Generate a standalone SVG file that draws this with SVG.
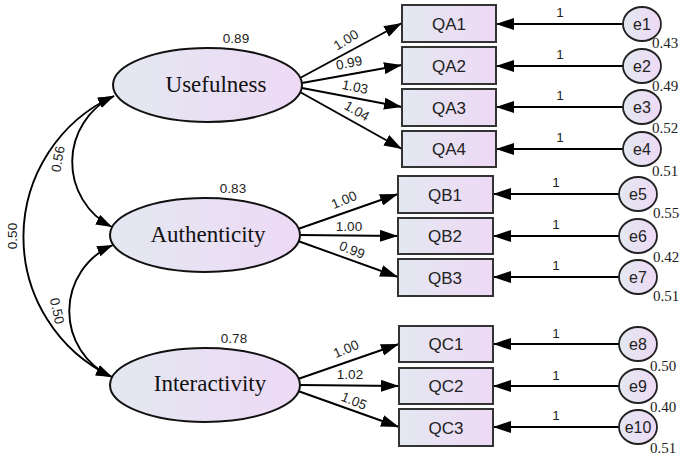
<svg xmlns="http://www.w3.org/2000/svg" width="685" height="458" viewBox="0 0 685 458">
<defs>
<linearGradient id="g" x1="0" y1="0" x2="1" y2="0">
<stop offset="0" stop-color="#e3e8f1"/>
<stop offset="1" stop-color="#eed9f5"/>
</linearGradient>
<marker id="ah" markerUnits="userSpaceOnUse" markerWidth="18" markerHeight="12" refX="18" refY="6" orient="auto-start-reverse" viewBox="0 0 18 12">
<path d="M0,0 L18,6 L0,12 z" fill="#000"/>
</marker>
<marker id="ac" markerUnits="userSpaceOnUse" markerWidth="16" markerHeight="11" refX="16" refY="5.5" orient="auto-start-reverse" viewBox="0 0 16 11">
<path d="M0,0 L16,5.5 L0,11 z" fill="#000"/>
</marker>
</defs>
<style>
.lat{fill:url(#g);stroke:#111;stroke-width:2}
.box{fill:url(#g);stroke:#333;stroke-width:2}
.err{fill:url(#g);stroke:#222;stroke-width:1.8}
.ln{stroke:#000;stroke-width:1.9;fill:none;marker-end:url(#ah)}
.cv{stroke:#000;stroke-width:1.9;fill:none;marker-start:url(#ac);marker-end:url(#ac)}
.lt{font-family:"Liberation Serif","Times New Roman",serif;font-size:23px;fill:#111;text-anchor:middle}
.bt{font-family:"Liberation Sans",Arial,sans-serif;font-size:17px;fill:#222;text-anchor:middle}
.et{font-family:"Liberation Sans",Arial,sans-serif;font-size:16px;fill:#222;text-anchor:middle}
.n{font-family:"Liberation Sans",Arial,sans-serif;font-size:13.5px;fill:#222;text-anchor:middle}
.v{font-family:"Liberation Serif","Times New Roman",serif;font-size:15px;fill:#222}
</style>
<g id="connectors">
<path class="ln" d="M300,78 L402,23"/>
<path class="ln" d="M302,83 L402,65"/>
<path class="ln" d="M302,88 L402,107"/>
<path class="ln" d="M300,92 L402,149"/>
<path class="ln" d="M298,229 L398,194"/>
<path class="ln" d="M300,235 L398,236"/>
<path class="ln" d="M298,241 L398,277"/>
<path class="ln" d="M298,379 L399,344"/>
<path class="ln" d="M300,385 L399,386"/>
<path class="ln" d="M298,391 L399,427"/>
<path class="ln" d="M623,24 L496,24"/>
<path class="ln" d="M623,66 L496,66"/>
<path class="ln" d="M623,107 L496,107"/>
<path class="ln" d="M623,149 L496,149"/>
<path class="ln" d="M619,194 L493,194"/>
<path class="ln" d="M619,236 L493,236"/>
<path class="ln" d="M619,277 L493,277"/>
<path class="ln" d="M619,344 L493,344"/>
<path class="ln" d="M619,386 L493,386"/>
<path class="ln" d="M619,427 L493,427"/>
<path class="cv" d="M114,96 A73,73 0 0 0 112,227"/>
<path class="cv" d="M113,245 A72,72 0 0 0 112,377"/>
<path class="cv" d="M114,96 A155,155 0 0 0 112,377"/>
<text class="n" transform="translate(346,40) rotate(-32)" dy="4.5">1.00</text>
<text class="n" transform="translate(349,63) rotate(-11)" dy="4.5">0.99</text>
<text class="n" transform="translate(355,87) rotate(12)" dy="4.5">1.03</text>
<text class="n" transform="translate(357,111) rotate(30)" dy="4.5">1.04</text>
<text class="n" transform="translate(344,200) rotate(-23)" dy="4.5">1.00</text>
<text class="n" transform="translate(349,226)" dy="4.5">1.00</text>
<text class="n" transform="translate(352,250) rotate(22)" dy="4.5">0.99</text>
<text class="n" transform="translate(346,349) rotate(-23)" dy="4.5">1.00</text>
<text class="n" transform="translate(350,374)" dy="4.5">1.02</text>
<text class="n" transform="translate(354,401) rotate(22)" dy="4.5">1.05</text>
<text class="n" x="560" y="17">1</text>
<text class="n" x="560" y="59">1</text>
<text class="n" x="560" y="100">1</text>
<text class="n" x="560" y="142">1</text>
<text class="n" x="556" y="187">1</text>
<text class="n" x="556" y="229">1</text>
<text class="n" x="556" y="270">1</text>
<text class="n" x="556" y="338">1</text>
<text class="n" x="556" y="380">1</text>
<text class="n" x="556" y="420">1</text>
<text class="n" transform="translate(58,159) rotate(-80)" dy="4.5">0.56</text>
<text class="n" transform="translate(12,236) rotate(-90)" dy="4.5">0.50</text>
<text class="n" transform="translate(57,311) rotate(78)" dy="4.5">0.50</text>
</g>
<g id="Usefulness">
<ellipse class="lat" cx="207.5" cy="85" rx="94.5" ry="37"/>
<text class="lt" x="216" y="92">Usefulness</text>
<text class="n" x="236" y="43">0.89</text>
</g>
<g id="Authenticity">
<ellipse class="lat" cx="205" cy="235" rx="95" ry="37"/>
<text class="lt" x="208" y="242">Authenticity</text>
<text class="n" x="233" y="193">0.83</text>
</g>
<g id="Interactivity">
<ellipse class="lat" cx="205" cy="385" rx="95" ry="37"/>
<text class="lt" x="210" y="391">Interactivity</text>
<text class="n" x="234" y="343">0.78</text>
</g>
<g id="QA1"><rect class="box" x="402" y="5" width="94" height="37"/><text class="bt" x="449" y="30">QA1</text></g>
<g id="QA2"><rect class="box" x="402" y="47" width="94" height="37"/><text class="bt" x="449" y="72">QA2</text></g>
<g id="QA3"><rect class="box" x="402" y="89" width="94" height="37"/><text class="bt" x="449" y="114">QA3</text></g>
<g id="QA4"><rect class="box" x="402" y="131" width="94" height="36"/><text class="bt" x="449" y="155">QA4</text></g>
<g id="QB1"><rect class="box" x="398" y="176" width="95" height="37"/><text class="bt" x="445" y="201">QB1</text></g>
<g id="QB2"><rect class="box" x="398" y="218" width="95" height="36"/><text class="bt" x="445" y="242">QB2</text></g>
<g id="QB3"><rect class="box" x="398" y="259" width="95" height="37"/><text class="bt" x="445" y="284">QB3</text></g>
<g id="QC1"><rect class="box" x="399" y="326" width="94" height="36"/><text class="bt" x="446" y="350">QC1</text></g>
<g id="QC2"><rect class="box" x="399" y="368" width="94" height="36"/><text class="bt" x="446" y="392">QC2</text></g>
<g id="QC3"><rect class="box" x="399" y="409" width="94" height="37"/><text class="bt" x="446" y="434">QC3</text></g>
<g id="e1"><ellipse class="err" cx="642" cy="24" rx="19" ry="17"/><text class="et" x="642" y="30">e1</text><text class="v" x="652" y="48">0.43</text></g>
<g id="e2"><ellipse class="err" cx="642" cy="66" rx="19" ry="17"/><text class="et" x="642" y="72">e2</text><text class="v" x="652" y="91">0.49</text></g>
<g id="e3"><ellipse class="err" cx="642" cy="107" rx="19" ry="17"/><text class="et" x="642" y="113">e3</text><text class="v" x="652" y="133">0.52</text></g>
<g id="e4"><ellipse class="err" cx="642" cy="149" rx="19" ry="17"/><text class="et" x="642" y="155">e4</text><text class="v" x="652" y="176">0.51</text></g>
<g id="e5"><ellipse class="err" cx="638" cy="194" rx="19" ry="17"/><text class="et" x="638" y="200">e5</text><text class="v" x="653" y="218">0.55</text></g>
<g id="e6"><ellipse class="err" cx="638" cy="236" rx="19" ry="17"/><text class="et" x="638" y="242">e6</text><text class="v" x="653" y="262">0.42</text></g>
<g id="e7"><ellipse class="err" cx="638" cy="277" rx="19" ry="17"/><text class="et" x="638" y="283">e7</text><text class="v" x="653" y="301">0.51</text></g>
<g id="e8"><ellipse class="err" cx="638" cy="344" rx="19" ry="17"/><text class="et" x="638" y="350">e8</text><text class="v" x="650" y="371">0.50</text></g>
<g id="e9"><ellipse class="err" cx="638" cy="386" rx="19" ry="17"/><text class="et" x="638" y="392">e9</text><text class="v" x="650" y="412">0.40</text></g>
<g id="e10"><ellipse class="err" cx="638" cy="427" rx="19" ry="17"/><text class="et" x="638" y="433">e10</text><text class="v" x="650" y="453">0.51</text></g>
</svg>
